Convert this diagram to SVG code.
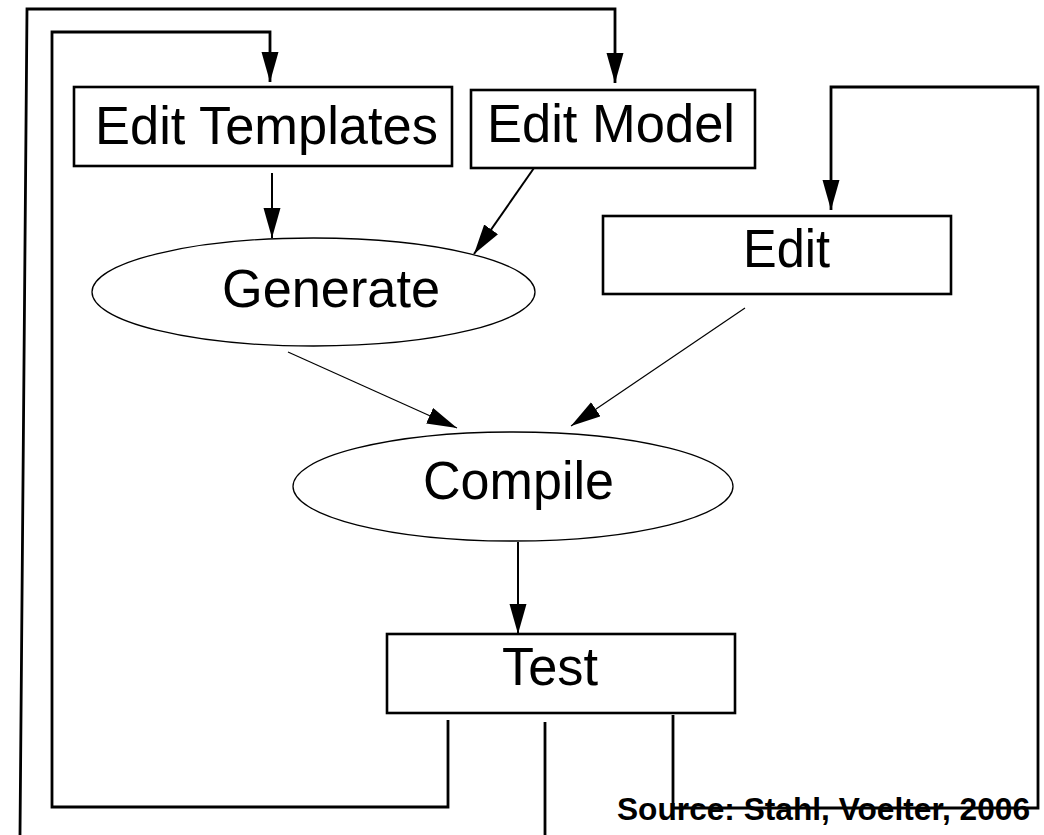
<svg xmlns="http://www.w3.org/2000/svg" width="1044" height="835" viewBox="0 0 1044 835">
<defs>
<style>
.box{fill:#fff;stroke:#000;stroke-width:2.6}
.ell{fill:#fff;stroke:#000;stroke-width:1.3}
.lbl{font-family:"Liberation Sans",Arial,Helvetica,sans-serif;font-size:54px;fill:#000}
.src{font-family:"Liberation Sans",Arial,Helvetica,sans-serif;font-size:31px;font-weight:bold;fill:#000}
.thick{fill:none;stroke:#000;stroke-width:2.8}
.med{fill:none;stroke:#000;stroke-width:2}
.thin{fill:none;stroke:#000;stroke-width:1.2}
</style>
<marker id="ah" markerUnits="userSpaceOnUse" markerWidth="32" markerHeight="18" refX="30" refY="8.5" orient="auto" viewBox="0 0 32 18">
<path d="M0,0 L30,8.5 L0,17 z" fill="#000"/>
</marker>
</defs>
<rect width="1044" height="835" fill="#fff"/>
<g id="edit-templates"><rect class="box" x="74" y="87" width="378" height="79"/><text class="lbl" x="95" y="144" textLength="343" lengthAdjust="spacingAndGlyphs">Edit Templates</text></g>
<g id="edit-model"><rect class="box" x="471" y="90" width="284" height="78"/><text class="lbl" x="487" y="142" textLength="248" lengthAdjust="spacingAndGlyphs">Edit Model</text></g>
<g id="edit"><rect class="box" x="603" y="216" width="348" height="78"/><text class="lbl" x="743" y="267" textLength="87" lengthAdjust="spacingAndGlyphs">Edit</text></g>
<g id="generate"><ellipse class="ell" cx="313.5" cy="292" rx="221.5" ry="54"/><text class="lbl" x="222" y="307" textLength="218" lengthAdjust="spacingAndGlyphs">Generate</text></g>
<g id="compile"><ellipse class="ell" cx="513" cy="486.5" rx="220" ry="54.5"/><text class="lbl" x="423" y="499" textLength="191" lengthAdjust="spacingAndGlyphs">Compile</text></g>
<g id="test"><rect class="box" x="387" y="634" width="348" height="79"/><text class="lbl" x="502" y="685" textLength="96" lengthAdjust="spacingAndGlyphs">Test</text></g>
<text class="src" x="617" y="820" textLength="413" lengthAdjust="spacingAndGlyphs">Source: Stahl, Voelter, 2006</text>
<g id="connectors">
<path class="thick" d="M20,835 L27,9 L615,9 L615,83" marker-end="url(#ah)"/>
<path class="thick" d="M448,720 L448,807 L52,807 L52,32 L270,32 L270,82" marker-end="url(#ah)"/>
<path class="thick" d="M673,715 L673,808 L1038,808 L1038,87 L831,87 L831,210" marker-end="url(#ah)"/>
<path class="thick" d="M545,722 L545,835"/>
<path class="med" d="M272,173 L272,238" marker-end="url(#ah)"/>
<path class="med" d="M534,168 L474,254" marker-end="url(#ah)"/>
<path class="thin" d="M288,352 L457,428" marker-end="url(#ah)"/>
<path class="thin" d="M745,308 L571,426" marker-end="url(#ah)"/>
<path class="med" d="M518,542 L518,634" marker-end="url(#ah)"/>
</g>
</svg>
